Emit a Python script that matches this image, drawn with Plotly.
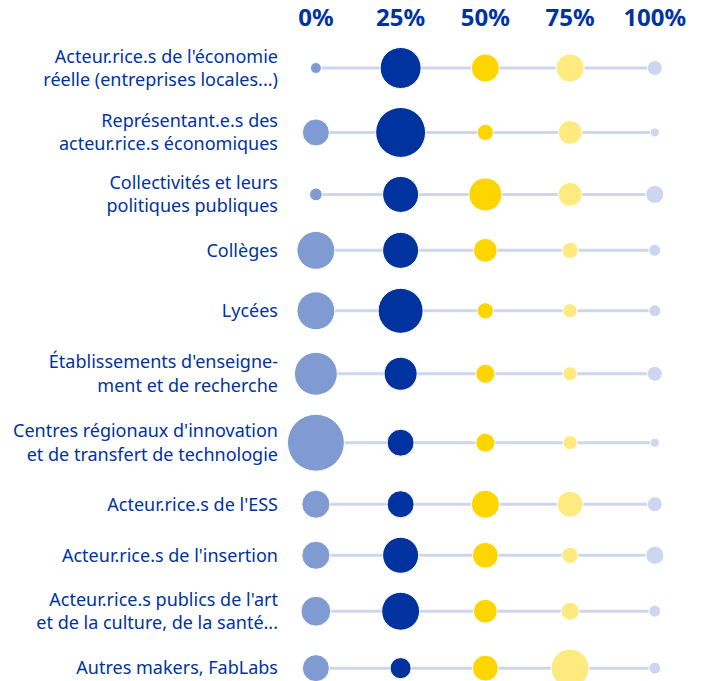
import numpy as np
import plotly.graph_objects as go

categories = [
    "Acteur.rice.s de l'économie<br>réelle (entreprises locales...)",
    "Représentant.e.s des<br>acteur.rice.s économiques",
    "Collectivités et leurs<br>politiques publiques",
    "Collèges",
    "Lycées",
    "Établissements d'enseigne-<br>ment et de recherche",
    "Centres régionaux d'innovation<br>et de transfert de technologie",
    "Acteur.rice.s de l'ESS",
    "Acteur.rice.s de l'insertion",
    "Acteur.rice.s publics de l'art<br>et de la culture, de la santé...",
    "Autres makers, FabLabs",
]
levels = [0, 25, 50, 75, 100]
tick_labels = ["0%", "25%", "50%", "75%", "100%"]

counts_0 = [6, 36, 8, 71, 71, 91, 160, 39, 39, 44, 36]
counts_25 = [83, 123, 64, 64, 100, 54, 36, 36, 64, 71, 22]
counts_50 = [39, 13, 54, 28, 13, 18, 18, 39, 33, 28, 33]
counts_75 = [39, 28, 28, 13, 10, 10, 10, 33, 13, 16, 71]
counts_100 = [11, 4, 16, 7, 7, 11, 4, 11, 16, 7, 7]

series = [counts_0, counts_25, counts_50, counts_75, counts_100]
colors = ["#809bd2", "#0033a0", "#ffd500", "#ffea80", "#ccd6ee"]
BLUE = "#0033a0"

# bubble diameter ~ sqrt(count) (area proportional to count)
diam = [[4.5 * np.sqrt(v) for v in s] for s in series]
row_max = [max(d[i] for d in diam) for i in range(len(categories))]
# row layout: rows with larger bubbles get more room
gaps = [(row_max[i] + row_max[i + 1]) / 2 + 19 for i in range(len(categories) - 1)]
row_y = list(np.concatenate([[0], np.cumsum(gaps)]))

fig = go.Figure()

# connecting lines
lx, ly = [], []
for y in row_y:
    lx += [levels[0], levels[-1], None]
    ly += [y, y, None]
fig.add_trace(go.Scatter(x=lx, y=ly, mode="lines",
                         line=dict(color="#cdd6ee", width=3),
                         hoverinfo="skip", showlegend=False))

for lvl, s, d, c in zip(levels, series, diam, colors):
    fig.add_trace(go.Scatter(
        x=[lvl] * len(s), y=row_y, mode="markers",
        marker=dict(size=d, sizemode="diameter", sizeref=1, color=c,
                    opacity=1, line=dict(width=1, color="white")),
        customdata=s, hovertemplate="%{customdata}<extra></extra>",
        cliponaxis=False, showlegend=False))

fig.update_layout(
    width=717, height=681,
    margin=dict(l=282, r=30, t=40, b=0),
    paper_bgcolor="white", plot_bgcolor="white",
    font=dict(family="Noto Sans, sans-serif", color=BLUE),
    xaxis=dict(side="top", tickvals=levels, ticktext=tick_labels,
               range=[-10, 109.5], showgrid=False, zeroline=False,
               showline=False, ticks="", automargin=False,
               ticklabelstandoff=8,
               tickfont=dict(size=24, color=BLUE, weight="bold",
                             family="Noto Sans, sans-serif")),
    yaxis=dict(tickvals=row_y, ticktext=categories,
               range=[613, -28], showgrid=False, zeroline=False,
               showline=False, ticks="", automargin=False,
               ticklabelstandoff=3,
               tickfont=dict(size=18, color=BLUE)),
)

fig.write_html("out.html", config={"displayModeBar": False},
               post_script="document.body.style.margin='0';")
